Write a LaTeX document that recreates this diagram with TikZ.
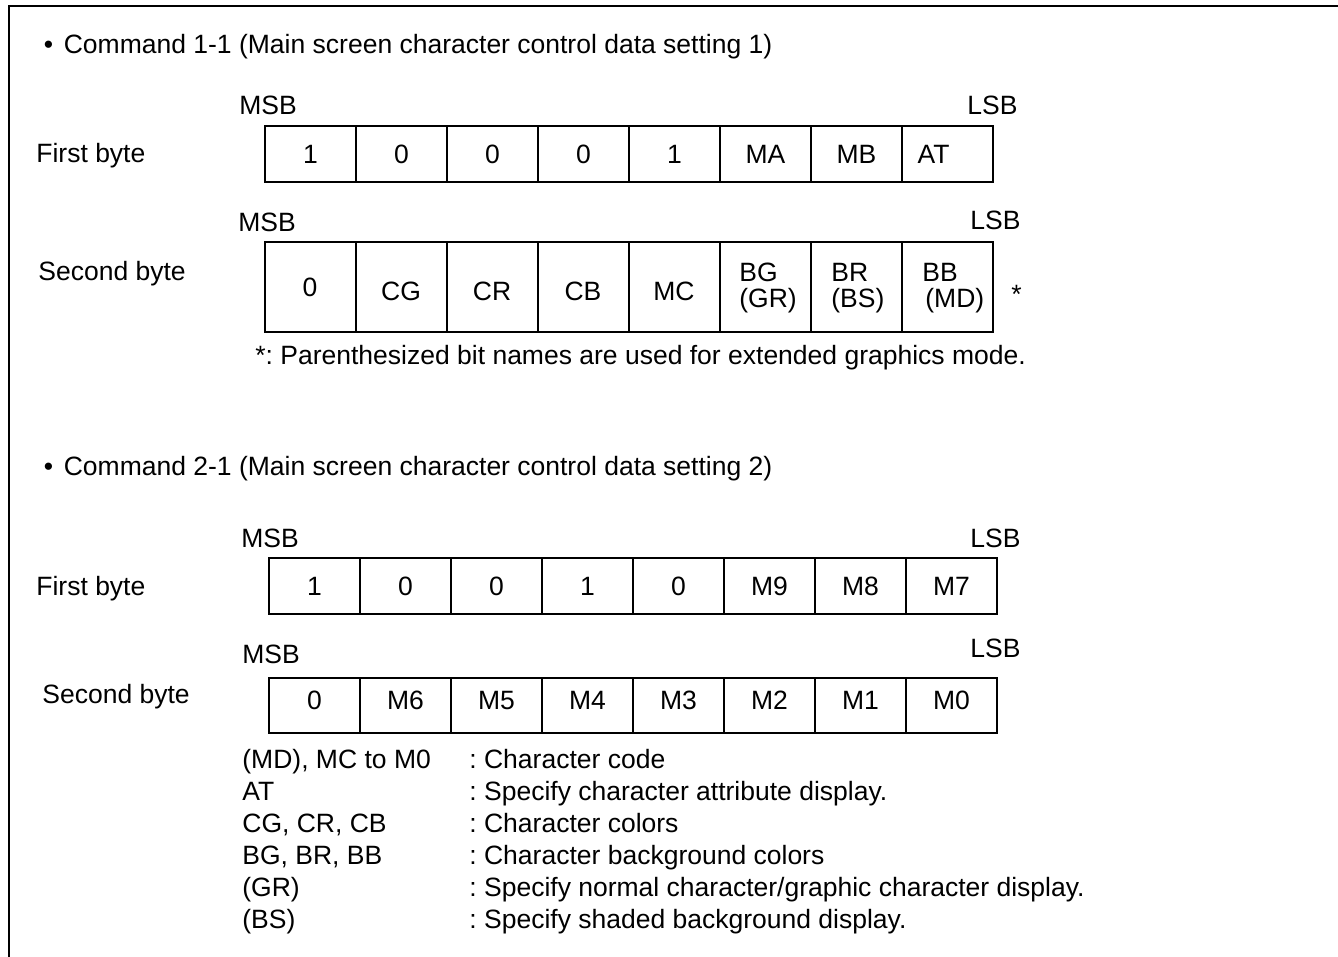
\documentclass[tikz,border=0pt]{standalone}
\usepackage{fontspec}
\setmainfont{Liberation Sans}
\frenchspacing
\begin{document}
\frenchspacing
\begin{tikzpicture}[x=0.5pt,y=-0.5pt,
  every node/.style={font=\fontsize{13.25pt}{16pt}\selectfont, inner sep=0pt},
  lbl/.style={anchor=base west},
  frameline/.style={line width=1.3pt},
  cell/.style={draw, line width=1pt, minimum width=45.5pt, text height=9.5pt, text depth=0pt},
  cellA/.style={cell, minimum height=28pt},
  cellB/.style={cell, minimum height=45pt, text height=13.2pt},
  cellBz/.style={cell, minimum height=45pt},
  cellC/.style={cell, minimum height=28pt},
  cellD/.style={cell, minimum height=27.5pt, text depth=6pt}]
\useasboundingbox (0,0) rectangle (1338,957);
% frame
\coordinate (ftl) at (9,6);
\coordinate (ftr) at (1338,6);
\coordinate (fbl) at (9,957);
\draw[frameline] (ftr) -- (ftl) -- (fbl);

% ---------- Command 1-1 ----------
\node[lbl] (title1) at (43.5,54) {\textbullet\hspace{5.35pt}Command 1-1 (Main screen character control data setting 1)};
\node[lbl] (fb1) at (36,163) {First byte};
\node[lbl] (msb1) at (239,115) {MSB};
\node[lbl] (lsb1) at (967,115) {LSB};
\foreach \t [count=\i] in {1,0,0,0,1,MA,MB,{AT\kern14pt}}
  \node[cellA] (a\i) at ({310.5+91*(\i-1)},154) {\t};

\node[lbl] (sb1) at (38,280) {Second byte};
\node[lbl] (msb2) at (238,232) {MSB};
\node[lbl] (lsb2) at (970,230) {LSB};
\node[cellBz] (b1) at (310,287) {0};
\node[cellB] (b2) at (401,287) {CG};
\node[cellB] (b3) at (492,287) {CR};
\node[cellB] (b4) at (583,287) {CB};
\node[cellB] (b5) at (674,287) {MC};
\node[cellB] (b6) at (765,287) {};
\node[cellB] (b7) at (856,287) {};
\node[cellB] (b8) at (947,287) {};
\node[lbl] (b6a) at (739,282) {BG};
\node[lbl] (b6b) at (739,307) {(GR)};
\node[lbl] (b7a) at (831,282) {BR};
\node[lbl] (b7b) at (831,307) {(BS)};
\node[lbl] (b8a) at (922,282) {BB};
\node[lbl] (b8b) at (925,307) {(MD)};
\node[lbl] (star) at (1011,303) {*};
\node[lbl] (fn) at (255,364) {*: Parenthesized bit names are used for extended graphics mode.};

% ---------- Command 2-1 ----------
\node[lbl] (title2) at (43.5,475) {\textbullet\hspace{5.35pt}Command 2-1 (Main screen character control data setting 2)};
\node[lbl] (fb2) at (36,595) {First byte};
\node[lbl] (msb3) at (241,547) {MSB};
\node[lbl] (lsb3) at (970,547) {LSB};
\foreach \t [count=\i] in {1,0,0,1,0,M9,M8,M7}
  \node[cellC] (c\i) at ({314.5+91*(\i-1)},585.5) {\t};

\node[lbl] (sb2) at (42,703) {Second byte};
\node[lbl] (msb4) at (242,663) {MSB};
\node[lbl] (lsb4) at (970,657) {LSB};
\foreach \t [count=\i] in {0,M6,M5,M4,M3,M2,M1,M0}
  \node[cellD] (d\i) at ({314.5+91*(\i-1)},705.5) {\t};

% ---------- legend ----------
\foreach \l/\r [count=\i] in {{(MD), MC to M0}/{: Character code},
  AT/{: Specify character attribute display.},
  {CG, CR, CB}/{: Character colors},
  {BG, BR, BB}/{: Character background colors},
  (GR)/{: Specify normal character/graphic character display.},
  (BS)/{: Specify shaded background display.}} {
  \node[lbl] (lk\i) at (242,{768+32*(\i-1)}) {\l};
  \node[lbl] (lv\i) at (469,{768+32*(\i-1)}) {\r};
}
\end{tikzpicture}
\end{document}
